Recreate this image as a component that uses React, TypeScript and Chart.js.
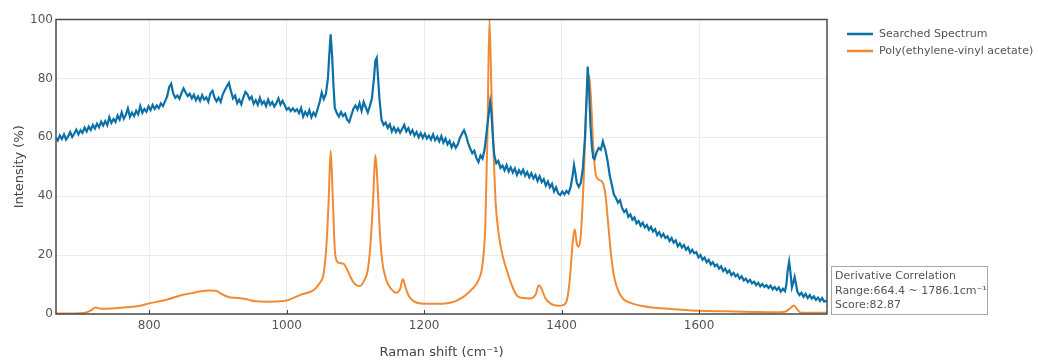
import React, { useEffect, useRef } from "react";
import { Chart, registerables } from "chart.js";

Chart.register(...registerables);

const X_MIN = 664.4;
const X_MAX = 1786.1;
const X_TICKS = [800, 1000, 1200, 1400, 1600];
const Y_TICKS = [0, 20, 40, 60, 80, 100];

const SERIES_NAMES = ["Searched Spectrum", "Poly(ethylene-vinyl acetate)"];
const NOTE_LINES = ["Derivative Correlation", "Range:664.4 ~ 1786.1cm⁻¹", "Score:82.87"];
const X_TITLE = "Raman shift (cm⁻¹)";
const Y_TITLE = "Intensity (%)";

const searchedSpectrum: [number, number][] = [
  [664.4, 59.8], [667, 58.9], [670, 60.6], [673, 59.4], [676, 61.0], [679, 59.2], [682, 60.3], [685, 61.8],
  [688, 60.1], [691, 61.3], [694, 62.6], [697, 61.0], [700, 62.4], [703, 61.5], [706, 63.3], [709, 62.0],
  [712, 63.6], [715, 62.5], [718, 64.2], [721, 63.0], [724, 64.6], [727, 63.4], [730, 65.3], [733, 64.0],
  [736, 65.5], [739, 64.1], [742, 66.8], [745, 64.9], [748, 66.2], [751, 65.2], [754, 67.4], [757, 66.0],
  [760, 68.5], [763, 66.3], [766, 67.6], [769, 69.8], [772, 66.9], [775, 68.4], [778, 67.2], [781, 69.0],
  [784, 67.8], [787, 70.6], [790, 68.3], [793, 69.6], [796, 68.7], [799, 70.5], [802, 69.3], [805, 71.0],
  [808, 69.6], [811, 70.8], [814, 69.9], [817, 71.5], [820, 70.6], [823, 72.2], [826, 73.8], [829, 77.0],
  [832, 78.2], [835, 74.8], [838, 73.4], [841, 74.2], [844, 73.1], [847, 75.0], [850, 76.6], [853, 75.2],
  [856, 74.0], [859, 74.8], [862, 73.2], [865, 74.4], [868, 72.6], [871, 73.9], [874, 72.4], [877, 74.3],
  [880, 72.8], [883, 73.6], [886, 72.1], [889, 74.9], [892, 75.8], [895, 73.5], [898, 72.2], [901, 73.4],
  [904, 72.0], [907, 74.6], [910, 76.0], [913, 77.3], [916, 78.5], [919, 75.6], [922, 73.2], [925, 74.2],
  [928, 71.6], [931, 72.8], [934, 71.2], [937, 73.6], [940, 75.4], [943, 74.6], [946, 72.9], [949, 73.8],
  [952, 71.4], [955, 72.6], [958, 71.0], [961, 73.4], [964, 71.3], [967, 72.2], [970, 70.6], [973, 72.8],
  [976, 71.0], [979, 72.0], [982, 70.4], [985, 71.6], [988, 73.2], [991, 71.1], [994, 72.4], [997, 71.0],
  [1000, 69.4], [1003, 70.0], [1006, 68.9], [1009, 69.8], [1012, 68.8], [1015, 69.5], [1018, 68.2], [1021, 69.9],
  [1024, 67.0], [1027, 68.6], [1030, 67.4], [1033, 69.2], [1036, 66.8], [1039, 68.4], [1042, 67.3], [1045, 69.6],
  [1048, 72.0], [1051, 75.2], [1054, 73.0], [1057, 74.6], [1060, 80.0], [1062, 88.0], [1064, 95.0], [1066, 88.0],
  [1068, 78.0], [1070, 70.0], [1073, 68.2], [1076, 67.0], [1079, 68.6], [1082, 67.2], [1085, 68.0], [1088, 66.0],
  [1091, 65.2], [1094, 67.4], [1097, 69.6], [1100, 70.8], [1103, 69.4], [1106, 71.6], [1109, 69.0], [1112, 72.0],
  [1115, 70.2], [1118, 68.4], [1121, 70.6], [1124, 73.2], [1127, 80.0], [1129, 86.0], [1131, 87.0], [1133, 80.0],
  [1135, 73.0], [1138, 66.0], [1141, 64.2], [1144, 65.0], [1147, 63.2], [1150, 64.4], [1153, 62.0], [1156, 63.4],
  [1159, 61.8], [1162, 63.0], [1165, 61.6], [1168, 62.8], [1171, 64.2], [1174, 62.0], [1177, 63.1], [1180, 61.2],
  [1183, 62.4], [1186, 60.6], [1189, 61.8], [1192, 60.0], [1195, 61.4], [1198, 59.8], [1201, 61.2], [1204, 59.6],
  [1207, 60.6], [1210, 59.2], [1213, 61.0], [1216, 59.0], [1219, 60.2], [1222, 58.6], [1225, 60.4], [1228, 58.2],
  [1231, 59.6], [1234, 57.6], [1237, 58.8], [1240, 56.6], [1243, 58.0], [1246, 56.4], [1249, 57.6], [1252, 59.8],
  [1255, 61.2], [1258, 62.4], [1261, 60.6], [1264, 58.0], [1267, 56.2], [1270, 54.6], [1273, 55.4], [1276, 53.0],
  [1279, 51.6], [1282, 53.8], [1285, 52.8], [1288, 56.0], [1291, 62.0], [1294, 68.0], [1296, 72.0], [1298, 68.0],
  [1300, 60.0], [1302, 54.0], [1305, 51.2], [1308, 52.0], [1311, 49.6], [1314, 50.4], [1317, 48.8], [1320, 50.6],
  [1323, 48.4], [1326, 49.8], [1329, 48.0], [1332, 49.4], [1335, 47.2], [1338, 48.8], [1341, 47.6], [1344, 49.0],
  [1347, 47.0], [1350, 48.2], [1353, 46.4], [1356, 47.8], [1359, 46.0], [1362, 47.2], [1365, 45.2], [1368, 46.8],
  [1371, 44.8], [1374, 45.8], [1377, 43.6], [1380, 45.0], [1383, 43.0], [1386, 44.2], [1389, 41.6], [1392, 43.0],
  [1395, 41.0], [1398, 40.4], [1401, 41.6], [1404, 40.6], [1407, 41.8], [1410, 41.0], [1413, 43.0], [1416, 47.0],
  [1418, 50.6], [1420, 48.0], [1422, 44.6], [1425, 43.2], [1428, 44.6], [1431, 49.6], [1434, 60.0], [1436, 72.0],
  [1438, 84.0], [1440, 76.0], [1442, 64.0], [1444, 57.0], [1446, 53.0], [1448, 52.6], [1451, 55.0], [1454, 56.4],
  [1457, 55.8], [1460, 58.6], [1462, 57.0], [1464, 55.4], [1467, 51.8], [1470, 47.0], [1473, 44.0], [1476, 40.6],
  [1479, 39.4], [1482, 37.8], [1485, 38.6], [1488, 36.0], [1491, 34.6], [1494, 35.4], [1497, 33.0], [1500, 33.8],
  [1503, 32.0], [1506, 32.8], [1509, 30.8], [1512, 31.6], [1515, 30.0], [1518, 31.0], [1521, 29.4], [1524, 30.2],
  [1527, 28.6], [1530, 29.6], [1533, 28.0], [1536, 28.8], [1539, 26.8], [1542, 27.8], [1545, 26.2], [1548, 27.2],
  [1551, 25.8], [1554, 26.4], [1557, 24.8], [1560, 25.8], [1563, 24.2], [1566, 25.0], [1569, 23.0], [1572, 24.0],
  [1575, 22.6], [1578, 23.4], [1581, 21.8], [1584, 22.6], [1587, 20.8], [1590, 21.8], [1593, 20.6], [1596, 21.0],
  [1599, 19.2], [1602, 20.0], [1605, 18.4], [1608, 19.2], [1611, 17.6], [1614, 18.4], [1617, 16.8], [1620, 17.6],
  [1623, 16.2], [1626, 16.8], [1629, 15.4], [1632, 16.2], [1635, 14.6], [1638, 15.4], [1641, 14.0], [1644, 14.8],
  [1647, 13.2], [1650, 14.0], [1653, 12.8], [1656, 13.4], [1659, 12.0], [1662, 12.8], [1665, 11.4], [1668, 12.0],
  [1671, 10.8], [1674, 11.6], [1677, 10.4], [1680, 11.0], [1683, 9.8], [1686, 10.6], [1689, 9.4], [1692, 10.2],
  [1695, 9.2], [1698, 9.8], [1701, 8.8], [1704, 9.6], [1707, 8.4], [1710, 9.2], [1713, 8.2], [1716, 9.0],
  [1719, 7.6], [1722, 8.6], [1725, 7.8], [1727, 10.0], [1729, 15.0], [1731, 17.8], [1733, 14.0], [1735, 9.0],
  [1737, 10.6], [1739, 12.6], [1741, 10.2], [1743, 7.6], [1746, 6.4], [1749, 7.2], [1752, 5.8], [1755, 6.8],
  [1758, 5.4], [1761, 6.4], [1764, 5.2], [1767, 6.0], [1770, 4.8], [1773, 5.6], [1776, 4.4], [1779, 5.4],
  [1782, 4.2], [1786.1, 4.6],
];

const evaReference: [number, number][] = [
  [664.4, 0.2], [690, 0.2], [705, 0.3], [715, 1.2], [722, 2.2], [730, 1.8], [745, 1.9], [765, 2.3],
  [785, 2.7], [800, 3.6], [815, 4.3], [830, 5.2], [845, 6.3], [860, 7.0], [875, 7.7], [888, 8.0],
  [897, 7.9], [905, 6.8], [915, 5.8], [925, 5.5], [935, 5.3], [945, 4.8], [955, 4.3], [970, 4.2],
  [990, 4.3], [1000, 4.6], [1010, 5.5], [1020, 6.5], [1030, 7.2], [1040, 8.2], [1048, 10.5], [1054, 14],
  [1058, 24], [1061, 38], [1064, 55.5], [1067, 40], [1070, 22], [1073, 18], [1077, 17.3], [1083, 17],
  [1088, 15], [1094, 12], [1100, 10], [1106, 9.5], [1112, 11], [1118, 15], [1122, 24], [1126, 40],
  [1129, 54], [1132, 45], [1135, 30], [1139, 18], [1145, 11.5], [1152, 8.5], [1160, 7.2], [1165, 8.5],
  [1169, 11.8], [1173, 9], [1178, 6], [1185, 4.3], [1195, 3.6], [1210, 3.5], [1230, 3.6], [1245, 4.3],
  [1258, 6.0], [1270, 8.5], [1280, 12], [1285, 17], [1289, 30], [1292, 60], [1295, 100], [1298, 75],
  [1301, 55], [1304, 38], [1308, 28], [1313, 21], [1320, 15], [1328, 9.5], [1336, 6], [1345, 5.4],
  [1355, 5.3], [1362, 6.5], [1367, 9.8], [1371, 8.5], [1376, 5.5], [1384, 3.5], [1395, 2.8], [1402, 3.0],
  [1408, 5], [1412, 12], [1416, 24], [1419, 28.8], [1422, 24], [1425, 22.8], [1428, 27], [1432, 45],
  [1436, 70], [1440, 81], [1443, 72], [1446, 57], [1450, 47], [1455, 45.5], [1460, 44.5], [1464, 40],
  [1468, 30], [1472, 20], [1477, 12], [1483, 7.5], [1490, 5], [1500, 3.8], [1515, 2.8], [1540, 2],
  [1570, 1.5], [1600, 1.1], [1640, 0.9], [1680, 0.7], [1710, 0.6], [1725, 0.8], [1732, 1.8], [1738, 2.9],
  [1743, 1.5], [1748, 0.4], [1786.1, 0.4],
];

const BLUE = "#0b70a6";
const ORANGE = "#f28a35";
const TEXT = "#555555";
const FONT = "'DejaVu Sans', Verdana, sans-serif";

const overlayPlugin = {
  id: "overlay",
  afterDraw(chart: any) {
    const { ctx, chartArea } = chart;
    const { left, top, right, bottom } = chartArea;
    ctx.save();
    const xs = chart.scales.x;
    ctx.strokeStyle = "#444";
    ctx.lineWidth = 1;
    X_TICKS.forEach((v) => {
      const px = Math.round(xs.getPixelForValue(v)) + 0.5;
      ctx.beginPath();
      ctx.moveTo(px, bottom - 4);
      ctx.lineTo(px, bottom);
      ctx.stroke();
    });
    ctx.strokeStyle = "#4a4a4a";
    ctx.lineWidth = 1.5;
    ctx.strokeRect(left, top, right - left, bottom - top);

    ctx.font = `11px ${FONT}`;
    ctx.textBaseline = "middle";
    ctx.textAlign = "left";
    const legendColors = [BLUE, ORANGE];
    SERIES_NAMES.forEach((name, i) => {
      const y = 34 + i * 17;
      ctx.strokeStyle = legendColors[i];
      ctx.lineWidth = 2.5;
      ctx.beginPath();
      ctx.moveTo(847, y);
      ctx.lineTo(873, y);
      ctx.stroke();
      ctx.fillStyle = TEXT;
      ctx.fillText(name, 879, y);
    });

    ctx.fillStyle = "#ffffff";
    ctx.fillRect(831, 266, 156, 48);
    ctx.strokeStyle = "#a8a8a8";
    ctx.lineWidth = 1;
    ctx.strokeRect(831.5, 266.5, 156, 48);
    ctx.fillStyle = TEXT;
    ctx.font = `11px ${FONT}`;
    NOTE_LINES.forEach((t, i) => {
      ctx.fillText(t, 835, 276.5 + i * 14.5);
    });
    ctx.restore();
  },
};

export default function App() {
  const canvasRef = useRef<HTMLCanvasElement | null>(null);

  useEffect(() => {
    const canvas = canvasRef.current;
    if (!canvas) return;
    const chart = new Chart(canvas, {
      type: "line",
      data: {
        datasets: [
          {
            label: SERIES_NAMES[0],
            data: searchedSpectrum.map(([x, y]) => ({ x, y })),
            borderColor: BLUE,
            borderWidth: 2.2,
            pointRadius: 0,
            tension: 0,
          },
          {
            label: SERIES_NAMES[1],
            data: evaReference.map(([x, y]) => ({ x, y })),
            borderColor: ORANGE,
            borderWidth: 2,
            pointRadius: 0,
            cubicInterpolationMode: "monotone",
          },
        ],
      },
      options: {
        animation: false,
        responsive: false,
        parsing: false as any,
        layout: { padding: { left: 0, right: 1038 - 827, top: 19.5, bottom: 0 } },
        plugins: { legend: { display: false }, tooltip: { enabled: false } },
        scales: {
          x: {
            type: "linear",
            min: X_MIN,
            max: X_MAX,
            afterBuildTicks: (scale: any) => {
              scale.ticks = X_TICKS.map((v) => ({ value: v }));
            },
            afterFit: (scale: any) => {
              scale.height = 362 - 314;
            },
            grid: { color: "#ebebeb", drawTicks: false },
            border: { display: false },
            ticks: {
              color: TEXT,
              font: { family: FONT, size: 12 },
              padding: 5,
              maxRotation: 0,
              callback: (v: any) => String(v),
            },
            title: {
              display: true,
              text: X_TITLE,
              color: "#444",
              font: { family: FONT, size: 13 },
              padding: { top: 0, bottom: 1.5 },
            },
          },
          y: {
            type: "linear",
            min: 0,
            max: 100,
            afterBuildTicks: (scale: any) => {
              scale.ticks = Y_TICKS.map((v) => ({ value: v }));
            },
            afterFit: (scale: any) => {
              scale.width = 56;
            },
            grid: { color: "#ebebeb", drawTicks: false },
            border: { display: false },
            ticks: {
              color: TEXT,
              font: { family: FONT, size: 12 },
              padding: 3,
              callback: (v: any) => String(v),
            },
            title: {
              display: true,
              text: Y_TITLE,
              color: "#444",
              font: { family: FONT, size: 13 },
              padding: { top: 12, bottom: 0 },
            },
          },
        },
      },
      plugins: [overlayPlugin],
    } as any);
    return () => chart.destroy();
  }, []);

  return (
    <div style={{ position: "fixed", left: 0, top: 0, width: 1038, height: 362, background: "#fff" }}>
      <canvas ref={canvasRef} width={1038} height={362} style={{ width: 1038, height: 362, display: "block" }} />
    </div>
  );
}
